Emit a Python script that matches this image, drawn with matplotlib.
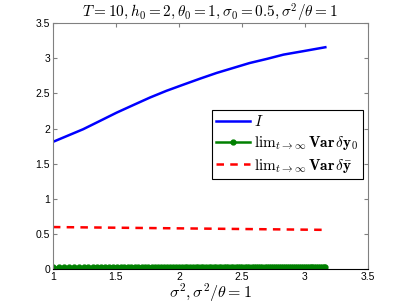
import numpy as np
import matplotlib
matplotlib.use('Agg')
from matplotlib import pyplot as plt

plt.rcParams['mathtext.fontset'] = 'cm'
plt.rcParams['font.family'] = ['Liberation Sans', 'DejaVu Sans']

# values
x_I = [1.0, 1.12, 1.24, 1.37, 1.505, 1.64, 1.77, 1.90, 2.03, 2.17, 2.30,
       2.43, 2.56, 2.70, 2.83, 2.99, 3.162]
I = [1.81, 1.90, 1.99, 2.105, 2.225, 2.335, 2.44, 2.535, 2.62, 2.71, 2.79,
     2.86, 2.93, 2.99, 3.05, 3.10, 3.155]

x_ybar = [1.0, 3.162]
var_ybar = [0.60, 0.56]

# sample grid of sigma^2 (100 points, sigma^2 squared equally spaced)
x_y0 = np.sqrt(np.linspace(1, 10, 100))
var_y0 = np.full(len(x_y0), 0.035)

fig = plt.figure(figsize=(4.07, 3.06), dpi=100)
ax = fig.add_axes([0.130, 0.120, 0.774, 0.805])

ax.plot(x_I, I, color='blue', lw=1.8, label=r'$I$')
ax.plot(x_y0, var_y0, color='green', lw=1.8, marker='o', markersize=3.5,
        label=r'$\mathrm{lim}_{t\to\infty}\,\mathbf{Var}\,\delta\mathbf{y}_\mathbf{0}$')
ax.plot(x_ybar, var_ybar, color='red', lw=1.8, ls='--', dashes=(3, 2.5),
        label=r'$\mathrm{lim}_{t\to\infty}\,\mathbf{Var}\,\delta\bar{\mathbf{y}}$')

ax.set_xlim(1, 3.5)
ax.set_ylim(0, 3.5)
ax.set_xticks([1, 1.5, 2, 2.5, 3, 3.5])
ax.set_xticklabels(['1', '1.5', '2', '2.5', '3', '3.5'])
ax.set_yticks([0, 0.5, 1, 1.5, 2, 2.5, 3, 3.5])
ax.set_yticklabels(['0', '0.5', '1', '1.5', '2', '2.5', '3', '3.5'])
ax.tick_params(direction='in', top=True, right=True, labelsize=7.5, length=3,
               color='#808080', pad=2)
for s in ['left', 'right', 'top']:
    ax.spines[s].set_color('#808080')
ax.spines['bottom'].set_color('black')

ax.set_title(r'$T=10, h_0=2, \theta_0=1, \sigma_0=0.5, \sigma^2/\theta=1$',
             fontsize=11, pad=4)
ax.set_xlabel(r'$\sigma^2, \sigma^2/\theta=1$', fontsize=11.5, labelpad=0)

leg = ax.legend(loc='upper right', bbox_to_anchor=(0.892, 0.641),
                bbox_transform=fig.transFigure, borderaxespad=0,
                fancybox=False, framealpha=1, fontsize=11,
                handlelength=2.2, handletextpad=0.3, borderpad=0.3,
                labelspacing=0.3)
leg.get_frame().set_edgecolor('black')
leg.get_frame().set_linewidth(0.8)

fig.savefig('out.png', dpi=100)
